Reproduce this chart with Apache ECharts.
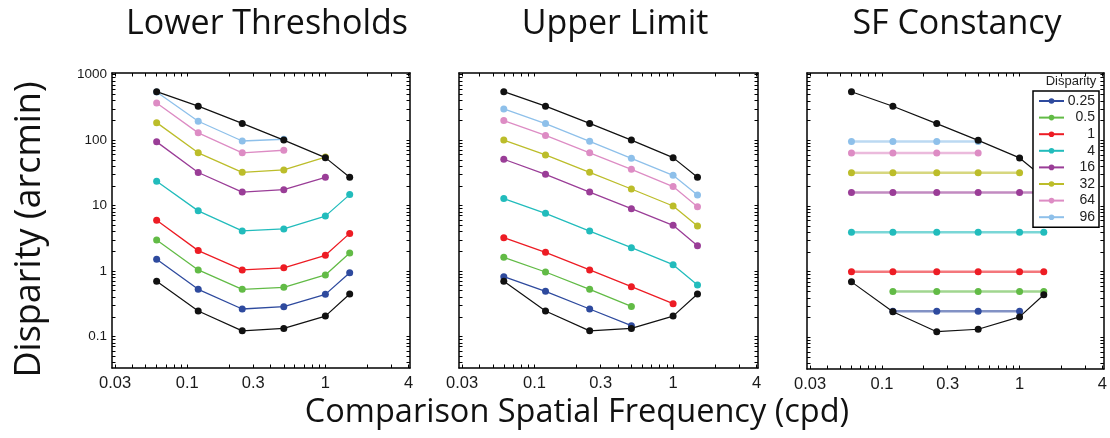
<!DOCTYPE html>
<html>
<head>
<meta charset="utf-8">
<script src="https://cdn.jsdelivr.net/npm/echarts@6/dist/echarts.min.js"></script>
<style>html,body{margin:0;padding:0;background:#fff;}#c{width:1110px;height:438px;}</style>
</head>
<body>
<div id="c"></div>
<script>
// ---- data ----
const panelTitles = ['Lower Thresholds', 'Upper Limit', 'SF Constancy'];
const xVals = [0.06, 0.12, 0.25, 0.5, 1, 1.5];
const disparityNames = ['0.25', '0.5', '1', '4', '16', '32', '64', '96'];
const xTickLabels = [0.03, 0.1, 0.3, 1, 4];
const yTickLabels = [0.1, 1, 10, 100, 1000];

const upperBoundary = [550, 330, 180, 100, 54, 27];
const lowerBoundary = [0.70, 0.245, 0.122, 0.133, 0.205, 0.445];

const lower_025 = [1.51, 0.525, 0.263, 0.285, 0.44, 0.94];
const lower_05  = [2.98, 1.04, 0.525, 0.563, 0.87, 1.88];
const lower_1   = [5.95, 2.05, 1.04, 1.12, 1.74, 3.76];
const lower_4   = [23.5, 8.3, 4.1, 4.4, 6.9, 14.7];
const lower_16  = [94, 32, 16.1, 17.5, 27, null];
const lower_32  = [185, 64, 32.2, 35, 55, null];
const lower_64  = [370, 129, 64, 70, null, null];
const lower_96  = [545, 194, 97, 103, null, null];

const upper_025 = [0.82, 0.489, 0.263, 0.146, null, null];
const upper_05  = [1.62, 0.966, 0.525, 0.288, null, null];
const upper_1   = [3.23, 1.93, 1.04, 0.576, 0.317, null];
const upper_4   = [12.8, 7.6, 4.08, 2.27, 1.25, 0.61];
const upper_16  = [51, 30, 16.1, 8.97, 4.99, 2.44];
const upper_32  = [100, 59.3, 32.2, 17.9, 9.85, 4.87];
const upper_64  = [199, 118, 64, 35.8, 19.5, 9.6];
const upper_96  = [299, 179, 96, 52.7, 29, 14.5];

const const_025 = [null, 0.25, 0.25, 0.25, 0.25, null];
const const_05  = [null, 0.5, 0.5, 0.5, 0.5, 0.5];
const const_1   = [1, 1, 1, 1, 1, 1];
const const_4   = [4, 4, 4, 4, 4, 4];
const const_16  = [16, 16, 16, 16, 16, 16];
const const_32  = [32, 32, 32, 32, 32, null];
const const_64  = [64, 64, 64, 64, null, null];
const const_96  = [96, 96, 96, 96, null, null];

const colors = ['#2e4a9e', '#62bb46', '#ed1c24', '#22bcbc', '#9a3d97', '#bcbd2a', '#dd8cc4', '#8ec0ea'];

// ---- build ----
const panelSets = [
  [lower_025, lower_05, lower_1, lower_4, lower_16, lower_32, lower_64, lower_96],
  [upper_025, upper_05, upper_1, upper_4, upper_16, upper_32, upper_64, upper_96],
  [const_025, const_05, const_1, const_4, const_16, const_32, const_64, const_96]
];

function pairs(vals) {
  const out = [];
  vals.forEach((v, i) => { if (v != null) out.push([xVals[i], v]); });
  return out;
}
function minorTicks(lo, hi) {
  const t = [];
  for (let e = lo; e <= hi; e++) {
    for (let m = 1; m <= 9; m++) t.push(+(m * Math.pow(10, e)).toPrecision(3));
  }
  return t;
}
const xTicks = minorTicks(-2, 0).filter(v => v >= 0.03 && v <= 4);
const yTicks = minorTicks(-2, 3).filter(v => v >= 0.04 && v <= 1000);

const grids = [
  { left: 112, top: 73, width: 298, height: 295 },
  { left: 459, top: 73, width: 299, height: 295 },
  { left: 807, top: 73, width: 298, height: 296 }
];

const xMin = 0.0285, xMax = 4.1, yMin = 0.033, yMax = 1060;
const lineCol = '#000';
const labelFont = 'Liberation Sans, Arial, sans-serif';
const xAxes = [], yAxes = [], series = [];
grids.forEach((g, gi) => {
  ['bottom', 'top'].forEach(pos => {
    xAxes.push({
      type: 'log', logBase: 10, gridIndex: gi, position: pos, min: xMin, max: xMax,
      axisLine: { show: true, lineStyle: { color: lineCol, width: 1.5 } },
      axisTick: { show: true, inside: true, length: 3.5, customValues: xTicks, lineStyle: { color: lineCol, width: 1 } },
      axisLabel: pos === 'bottom' ? {
        show: true, customValues: xTickLabels, margin: 7,
        fontFamily: labelFont, fontSize: 16.5, color: '#1a1a1a',
        formatter: v => String(+v.toPrecision(3))
      } : { show: false },
      splitLine: { show: false }, minorTick: { show: false }
    });
  });
  ['left', 'right'].forEach(pos => {
    const ax = {
      type: 'log', logBase: 10, gridIndex: gi, position: pos, min: yMin, max: yMax,
      axisLine: { show: true, lineStyle: { color: lineCol, width: 1.5 } },
      axisTick: { show: true, inside: true, length: 3.5, customValues: yTicks, lineStyle: { color: lineCol, width: 1 } },
      axisLabel: (pos === 'left' && gi === 0) ? {
        show: true, customValues: yTickLabels, margin: 5,
        fontFamily: labelFont, fontSize: 13.5, color: '#1a1a1a',
        formatter: v => String(+v.toPrecision(3))
      } : { show: false },
      splitLine: { show: false }, minorTick: { show: false }
    };
    if (pos === 'left' && gi === 0) {
      ax.name = 'Disparity (arcmin)';
      ax.nameLocation = 'middle';
      ax.nameGap = 64;
      ax.nameTextStyle = { fontFamily: 'Open Sans, sans-serif', fontSize: 36, color: '#111', padding: [0, 18, 0, 0] };
    }
    yAxes.push(ax);
  });

  const thin = gi < 2;
  panelSets[gi].forEach((vals, si) => {
    series.push({
      name: disparityNames[si], type: 'line',
      xAxisIndex: gi * 2, yAxisIndex: gi * 2,
      data: pairs(vals),
      symbol: 'circle', symbolSize: 7,
      itemStyle: { color: colors[si] },
      lineStyle: thin ? { color: colors[si], width: 1.3 } : { color: colors[si], width: 2.5, opacity: 0.6 },
      silent: true, animation: false, z: 2
    });
  });
  [upperBoundary, lowerBoundary].forEach((vals, bi) => {
    series.push({
      name: bi === 0 ? 'upper' : 'lower', type: 'line',
      xAxisIndex: gi * 2, yAxisIndex: gi * 2,
      data: pairs(vals),
      symbol: 'circle', symbolSize: 7,
      itemStyle: { color: '#111' },
      lineStyle: { color: '#111', width: 1.2 },
      silent: true, animation: false, z: 3
    });
  });
});

const titleFont = 'Open Sans, sans-serif';
const tStyle = (size) => ({ fontFamily: titleFont, fontSize: size, fontWeight: 'normal', color: '#111' });
const option = {
  animation: false,
  backgroundColor: '#fff',
  title: [
    { text: panelTitles[0], left: 262, top: 2, textAlign: 'center', textStyle: tStyle(34) },
    { text: panelTitles[1], left: 610, top: 2, textAlign: 'center', textStyle: tStyle(34) },
    { text: panelTitles[2], left: 952, top: 2, textAlign: 'center', textStyle: tStyle(34) },
    { text: 'Comparison Spatial Frequency (cpd)', left: 572, top: 391, textAlign: 'center', textStyle: tStyle(32.5) },
    { text: 'Disparity', left: 1066, top: 70, textAlign: 'center', textStyle: { fontFamily: labelFont, fontSize: 13, fontWeight: 'normal', color: '#222' } }
  ],
  legend: {
    data: disparityNames,
    orient: 'vertical',
    left: 1033, top: 91,
    padding: [3, 4, 3, 5],
    itemGap: 2.6,
    itemWidth: 25, itemHeight: 7,
    backgroundColor: '#fff',
    borderColor: '#000', borderWidth: 1.5,
    selectedMode: false,
    formatter: name => '{r|' + name + '}',
    textStyle: {
      fontFamily: labelFont, fontSize: 14, color: '#222',
      rich: { r: { width: 26, align: 'right', fontFamily: labelFont, fontSize: 14, color: '#222' } }
    },
    z: 10
  },
  grid: grids,
  xAxis: xAxes,
  yAxis: yAxes,
  series: series
};
const chart = echarts.init(document.getElementById('c'), null, { renderer: 'canvas' });
chart.setOption(option);
</script>
</body>
</html>
